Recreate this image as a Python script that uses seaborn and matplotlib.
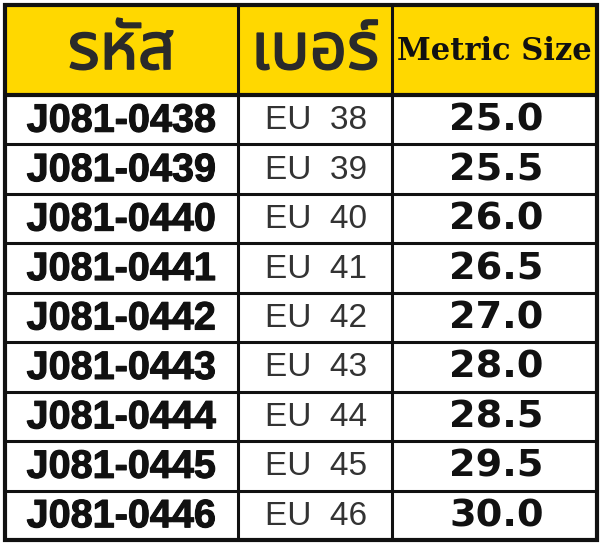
import matplotlib
matplotlib.use("Agg")
import matplotlib.pyplot as plt
import matplotlib.patheffects as pe
import seaborn as sns
from matplotlib.patches import Rectangle

sns.set_theme(style="white")

headers = ["รหัส", "เบอร์", "Metric Size"]
codes = ["J081-0438", "J081-0439", "J081-0440", "J081-0441", "J081-0442",
         "J081-0443", "J081-0444", "J081-0445", "J081-0446"]
sizes = ["EU 38", "EU 39", "EU 40", "EU 41", "EU 42", "EU 43", "EU 44", "EU 45", "EU 46"]
metric = ["25.0", "25.5", "26.0", "26.5", "27.0", "28.0", "28.5", "29.5", "30.0"]

fig = plt.figure(figsize=(6, 5.44), dpi=100)
ax = fig.add_axes([0, 0, 1, 1])
ax.set_xlim(0, 600)
ax.set_ylim(544, 0)
ax.axis("off")

L, R, T, B = 5, 597, 5, 540
colx = [L, 238, 392, R]
hb = 95
rh = (B - hb) / len(codes)

ax.add_patch(Rectangle((L, T), R - L, hb - T, color="#FFD800", zorder=0))
thai = ["Noto Sans Thai", "Loma", "Garuda", "Tlwg Typo", "Noto Sans", "DejaVu Sans"]
bold = [pe.withStroke(linewidth=1.2, foreground="#2a2a2a")]
hfont = [dict(family=thai, size=47, weight="bold", color="#2a2a2a", path_effects=bold),
         dict(family=thai, size=47, weight="bold", color="#2a2a2a", path_effects=bold),
         dict(family="DejaVu Serif", size=22, weight="bold", color="#111111")]
for j, h in enumerate(headers):
    ax.text((colx[j] + colx[j + 1]) / 2, (T + hb) / 2 + 2, h, ha="center", va="center", **hfont[j])

for i in range(len(codes)):
    yc = hb + rh * (i + 0.5) + 1
    ax.text((colx[0] + colx[1]) / 2, yc, codes[i], ha="center", va="center",
            family="Liberation Sans", weight="bold", size=28.5, color="#111111",
            path_effects=[pe.withStroke(linewidth=0.8, foreground="#111111")])
    ax.text(265, yc, sizes[i].replace(" ", "  "), ha="left", va="center",
            family="Liberation Sans", size=24, color="#333333")
    ax.text((colx[2] + colx[3]) / 2 + 2, yc, metric[i], ha="center", va="center",
            family="DejaVu Sans", weight="bold", size=27.5, color="#111111")

lw = 2.2
ax.add_patch(Rectangle((L, T), R - L, B - T, fill=False, ec="#111111", lw=3, zorder=3))
for x in colx[1:-1]:
    ax.plot([x, x], [T, B], color="#111111", lw=lw, zorder=3)
ax.plot([L, R], [hb, hb], color="#111111", lw=3, zorder=3)
for i in range(1, len(codes)):
    y = hb + rh * i
    ax.plot([L, R], [y, y], color="#111111", lw=lw, zorder=3)

fig.savefig("out.png", dpi=100)
